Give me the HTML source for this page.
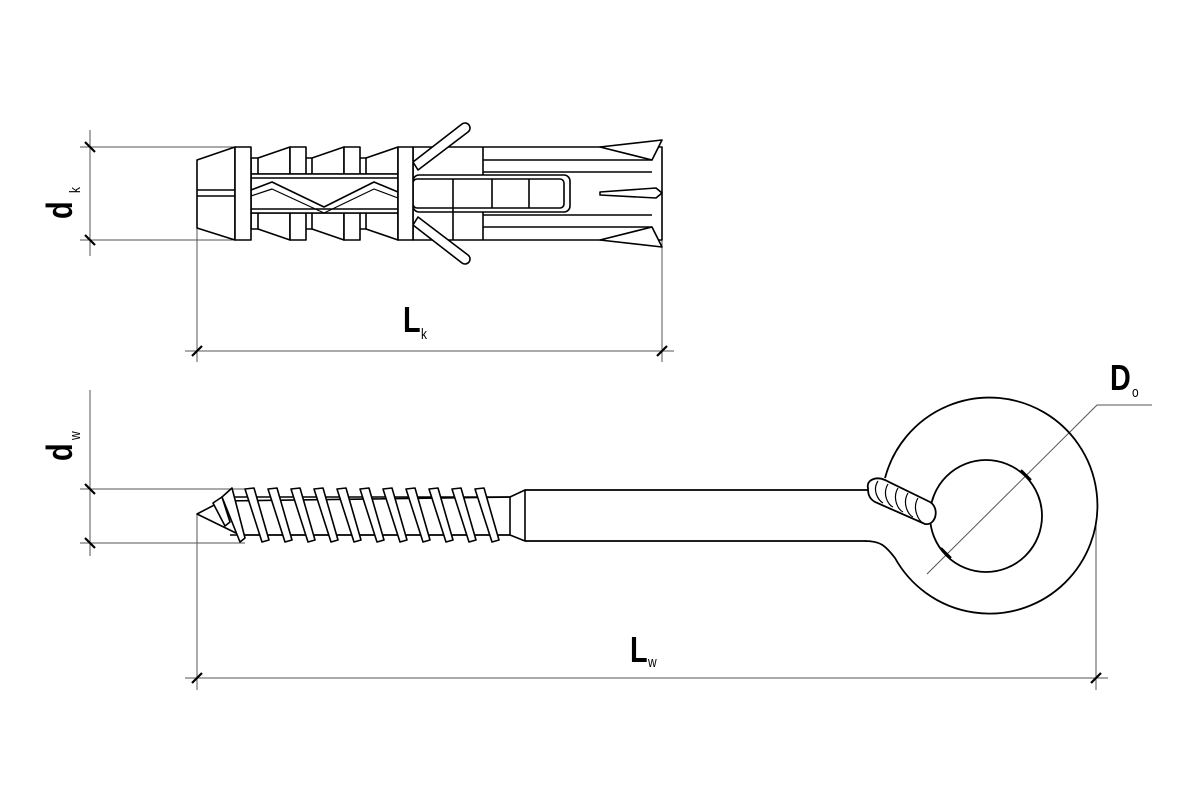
<!DOCTYPE html>
<html><head><meta charset="utf-8"><style>html,body{margin:0;padding:0;background:#fff}svg{display:block}</style></head>
<body>
<svg width="1200" height="800" viewBox="0 0 1200 800" xmlns="http://www.w3.org/2000/svg" font-family="Liberation Sans, sans-serif">
<g fill="none" stroke="#555" stroke-width="1">
<line x1="80" y1="147" x2="240" y2="147"/><line x1="80" y1="240" x2="240" y2="240"/>
<line x1="90" y1="130" x2="90" y2="256"/>
<line x1="197" y1="228" x2="197" y2="362"/><line x1="662" y1="240" x2="662" y2="362"/>
<line x1="185" y1="351" x2="674" y2="351"/>
<line x1="80" y1="489" x2="245" y2="489"/><line x1="80" y1="543" x2="245" y2="543"/>
<line x1="90" y1="390" x2="90" y2="556"/>
<line x1="197" y1="514" x2="197" y2="690"/><line x1="1096" y1="525" x2="1096" y2="690"/>
<line x1="185" y1="678" x2="1108" y2="678"/>
<polyline points="927,574 1097,405 1152,405"/>
</g>
<g stroke="#000" stroke-width="2.2">
<line x1="85" y1="142" x2="95" y2="152"/><line x1="85" y1="235" x2="95" y2="245"/>
<line x1="192" y1="356" x2="202" y2="346"/><line x1="657" y1="356" x2="667" y2="346"/>
<line x1="85" y1="484" x2="95" y2="494"/><line x1="85" y1="538" x2="95" y2="548"/>
<line x1="192" y1="683" x2="202" y2="673"/><line x1="1091" y1="683" x2="1101" y2="673"/>
<line x1="1021" y1="470" x2="1031" y2="480"/><line x1="941" y1="548" x2="951" y2="558"/>
</g>
<g font-weight="bold" fill="#000">
<text transform="translate(72,219) rotate(-90) scale(0.8,1)" font-size="36">d</text>
<text transform="translate(80,193) rotate(-90) scale(0.8,1)" font-size="15" font-weight="normal">k</text>
<text transform="translate(72,461) rotate(-90) scale(0.8,1)" font-size="36">d</text>
<text transform="translate(80,440) rotate(-90) scale(0.8,1)" font-size="15" font-weight="normal">w</text>
<text transform="translate(403,332) scale(0.8,1)" font-size="36">L</text><text transform="translate(421,339) scale(0.8,1)" font-size="15" font-weight="normal">k</text>
<text transform="translate(630,662) scale(0.8,1)" font-size="36">L</text><text transform="translate(648,667) scale(0.8,1)" font-size="15" font-weight="normal">w</text>
<text transform="translate(1110,390) scale(0.8,1)" font-size="36">D</text><text transform="translate(1132,397) scale(0.8,1)" font-size="15" font-weight="normal">o</text>
</g>
<g fill="#fff" stroke="#000" stroke-width="1.6" stroke-linejoin="round">
<rect x="413" y="147" width="249" height="93"/>
<line x1="483" y1="147" x2="483" y2="240"/>
<line x1="483" y1="160" x2="652" y2="160"/><line x1="483" y1="172" x2="652" y2="172"/>
<line x1="483" y1="215" x2="652" y2="215"/><line x1="483" y1="227" x2="652" y2="227"/>
<path d="M600,147 L662,140 L652,160 Z"/>
<path d="M600,240 L662,247 L652,227 Z"/>
<path d="M600,192 L656,188 L662,193 L656,198 L600,195 Z"/>
<rect x="413" y="175" width="157" height="37" rx="6"/>
<rect x="413" y="179" width="151" height="29" rx="4"/>
<line x1="453" y1="179" x2="453" y2="240"/><line x1="492" y1="179" x2="492" y2="208"/><line x1="529" y1="179" x2="529" y2="208"/>
<path d="M413,162 L462,124 A5,5 0 0 1 468,132 L418,170 Z"/>
<path d="M413,225 L462,263 A5,5 0 0 0 468,255 L418,217 Z"/>
<path d="M197,160 L235,147 L235,240 L197,228 Z"/>
<line x1="197" y1="190" x2="235" y2="190"/><line x1="197" y1="196" x2="235" y2="196"/>
<rect x="251" y="158" width="147" height="16"/><rect x="251" y="213" width="147" height="16"/>
<path d="M258,158 L290,147 L290,174 L258,174 Z"/><path d="M258,229 L290,240 L290,213 L258,213 Z"/>
<path d="M312,158 L344,147 L344,174 L312,174 Z"/><path d="M312,229 L344,240 L344,213 L312,213 Z"/>
<path d="M366,158 L398,147 L398,174 L366,174 Z"/><path d="M366,229 L398,240 L398,213 L366,213 Z"/>
<rect x="290" y="147" width="16" height="27"/><rect x="290" y="213" width="16" height="27"/>
<rect x="344" y="147" width="16" height="27"/><rect x="344" y="213" width="16" height="27"/>
<rect x="251" y="174" width="147" height="39"/>
<line x1="251" y1="178" x2="398" y2="178"/><line x1="251" y1="209" x2="398" y2="209"/>
<polyline points="251,190 272,182 324,207 374,182 398,192" fill="none"/>
<polyline points="251,196 272,189 324,213 374,189 398,198" fill="none" stroke-width="1.2"/>
<rect x="235" y="147" width="16" height="93"/>
<rect x="398" y="147" width="15" height="93"/>
</g>
<g fill="none" stroke="#000" stroke-width="1.8">
<path d="M885,478 A108,108 0 1 1 895,558 C885,545 880,541 865,541"/>
<circle cx="986" cy="516" r="56"/>
<path d="M525,490 L870,490"/><path d="M525,541 L866,541"/>
<path d="M868,488 C866,480 876,476 885,480 L930,502 C940,508 936,526 925,524 L875,502 C868,498 868,492 868,488 Z" fill="#fff"/>
<path d="M878,481 C872,490 878,500 883,503 M888,484 C882,494 888,505 893,507 M898,488 C892,498 898,510 903,512 M908,493 C902,503 908,515 913,517 M918,498 C912,508 918,520 923,523" stroke-width="1.2"/>
</g>
<g fill="#fff" stroke="#000" stroke-width="1.6" stroke-linejoin="round">
<path d="M197,514 L222,501 L510,497 L525,490 L525,541 L510,535 L240,535 Z"/>
<line x1="222" y1="497" x2="510" y2="497"/><line x1="230" y1="535" x2="510" y2="535"/>
<line x1="510" y1="497" x2="510" y2="535"/>
<path d="M213,503 L222,497 L230,522 L225,526 Z"/>
<path d="M222,497 L232,488 L245,538 L240,542 Z"/>
<path d="M245,489 L254,488 L269,540 L262,542 Z"/><path d="M268,489 L277,488 L292,540 L285,542 Z"/>
<path d="M291,489 L300,488 L315,540 L308,542 Z"/><path d="M314,489 L323,488 L338,540 L331,542 Z"/>
<path d="M337,489 L346,488 L361,540 L354,542 Z"/><path d="M360,489 L369,488 L384,540 L377,542 Z"/>
<path d="M383,489 L392,488 L407,540 L400,542 Z"/><path d="M406,489 L415,488 L430,540 L423,542 Z"/>
<path d="M429,489 L438,488 L453,540 L446,542 Z"/><path d="M452,489 L461,488 L476,540 L469,542 Z"/>
<path d="M475,489 L484,488 L499,540 L492,542 Z"/>
</g>
</svg>
</body></html>
